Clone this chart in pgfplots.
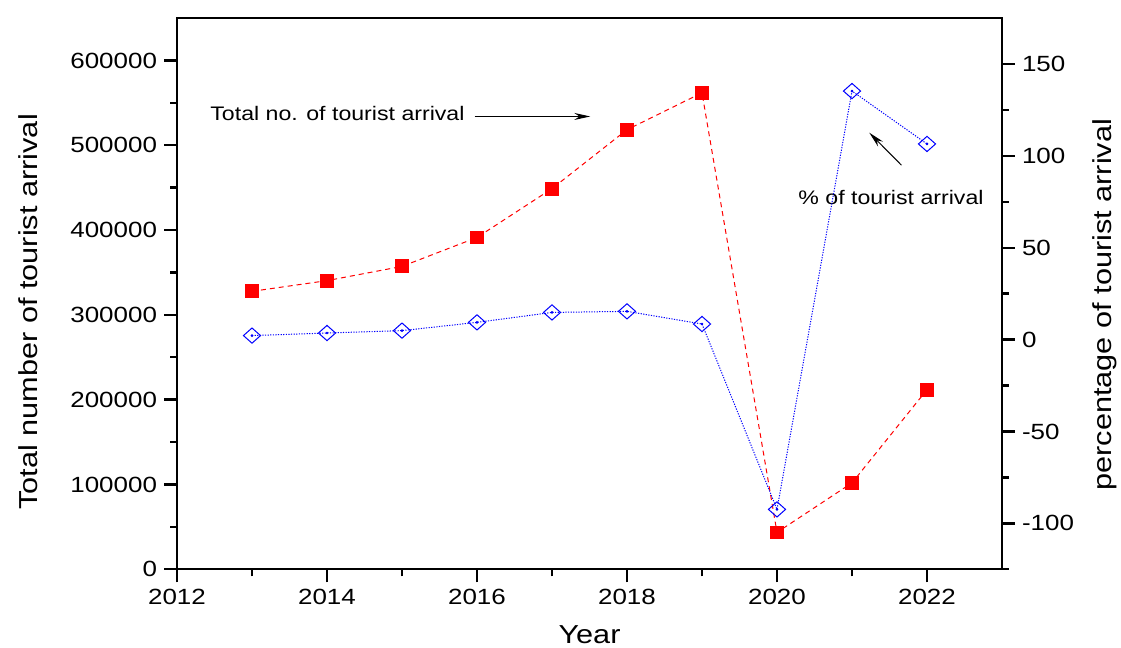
\documentclass[border=0pt]{standalone}
\usepackage{fontspec}
\setmainfont{Liberation Sans}[FakeStretch=1.18]
\usepackage{pgfplots}
\usepackage{pgfplotstable}
\pgfplotsset{compat=1.18}
\usetikzlibrary{arrows.meta}

\pgfplotstableread{
year total
2013 327800
2014 340400
2015 357200
2016 391300
2017 448900
2018 518400
2019 561900
2020 43500
2021 101900
2022 211800
}\totaldata

\pgfplotstableread{
year pct
2013 2.2
2014 3.6
2015 4.9
2016 9.4
2017 14.8
2018 15.4
2019 8.5
2020 -92.4
2021 135.3
2022 106.5
}\pctdata

\pgfplotsset{
  common/.style={
    scale only axis, width=412.5pt, height=275.6pt,
    xmin=2012, xmax=2023,
    tick align=outside,
    major tick length=6.5pt, minor tick length=3.5pt,
    axis line style={line width=1.2pt, black},
    every tick/.style={line width=1.2pt, black},
    /pgf/number format/assume math mode=true,
    ticklabel style={font=\fontsize{11}{13}\selectfont},
    label style={font=\fontsize{13}{15}\selectfont},
  }
}

\begin{document}
\begin{tikzpicture}
\begin{axis}[common, name=ax,
  ymin=0, ymax=650000,
  xtick={2012,2014,...,2022}, minor xtick={2013,2015,...,2021},
  ytick={0,100000,...,600000}, minor ytick={50000,150000,...,550000},
  xtick pos=left, ytick pos=left,
  scaled y ticks=false,
  xticklabel style={/pgf/number format/1000 sep={}},
  yticklabel style={/pgf/number format/fixed, /pgf/number format/1000 sep={}},
  xlabel={Year}, ylabel={Total number of tourist arrival},
  xlabel style={at={(axis description cs:0.5,-0.119)}, anchor=center},
  ylabel style={at={(axis description cs:-0.1806,0.467)}, anchor=center},
]
\addplot[red, line width=0.5pt, dash pattern=on 2.5pt off 2pt,
  mark=square*, mark size=3.2pt, mark options={solid, fill=red, draw=red}]
  table[x=year, y=total] {\totaldata};
\node[anchor=west, inner sep=0pt, font=\fontsize{9.8}{12}\selectfont]
  at (axis cs:2012.44,538000) {Total no. of tourist arrival};
\draw[line width=0.5pt, -{Stealth[length=8pt, width=3.5pt]}]
  (axis cs:2015.97,534000) -- (axis cs:2017.51,534000);
\node[anchor=center, inner sep=0pt, font=\fontsize{9.8}{12}\selectfont]
  at (axis cs:2021.52,438400) {\% of tourist arrival};
\draw[line width=0.5pt, -{Stealth[length=8pt, width=3.5pt]}]
  (axis cs:2021.66,476500) -- (axis cs:2021.23,514900);
\end{axis}
\begin{axis}[common,
  ymin=-125, ymax=175,
  axis x line=none, axis y line*=right,
  ytick={-100,-50,...,150}, minor ytick={-125,-75,...,125},
  ylabel={percentage of tourist arrival},
  ylabel style={at={(axis description cs:1.125,0.48)}, anchor=center},
]
\addplot[blue, line width=0.5pt, dash pattern=on 0.6pt off 0.7pt,
  mark=diamond, mark size=3.8pt, mark options={solid, draw=blue, xscale=1.5}]
  table[x=year, y=pct] {\pctdata};
\addplot[blue, only marks, mark=*, mark size=0.45pt]
  table[x=year, y=pct] {\pctdata};
\end{axis}
\pgfresetboundingbox
\path ([shift={(-88.5pt,-39.35pt)}]ax.south west) rectangle ([shift={(472pt,284.65pt)}]ax.south west);
\end{tikzpicture}
\end{document}
